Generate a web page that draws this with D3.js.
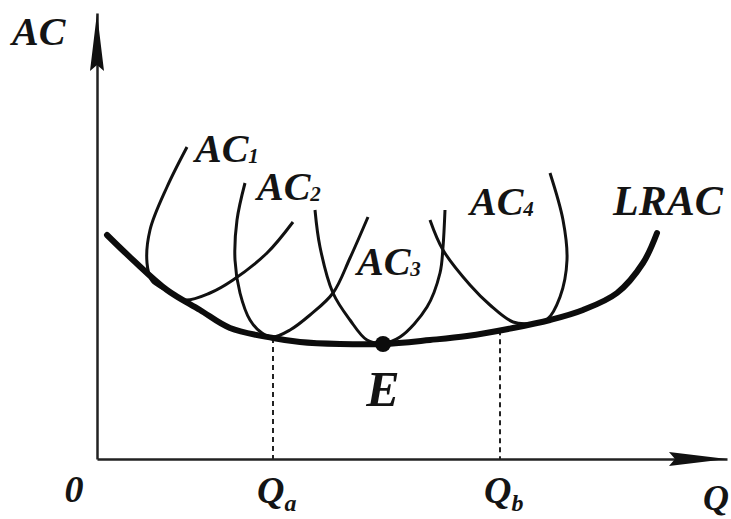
<!DOCTYPE html>
<html>
<head>
<meta charset="utf-8">
<script src="https://cdn.jsdelivr.net/npm/d3@7"></script>
<style>
  body { margin: 0; background: #fff; }
</style>
</head>
<body>
<svg id="chart" width="731" height="519"></svg>
<script>
// curves, [Q, AC]
const lrac = [[2, 44.8], [7.2, 39.8], [14, 33.8], [20.6, 29.8], [26.6, 26.2], [35.2, 24.2], [40.6, 23.4],
  [48.6, 23], [57.2, 23], [66.6, 23.8], [74, 24.6], [83.2, 26.2], [90.6, 27.8], [97.2, 29.8], [104, 33.2],
  [109.2, 39.2], [112, 45.2]];
const ac1 = [[18, 62.4], [14, 54.4], [10.6, 45.8], [10, 39.2], [11, 35.6], [13.5, 33.9], [17.5, 31.8],
  [22.6, 33.2], [27.2, 35.8], [34, 41.2], [39.2, 47.4]];
const ac2 = [[29.6, 55.2], [28, 47.8], [27.6, 39.8], [28.6, 33.2], [30.6, 27.8], [33, 25.2], [35.2, 24.4],
  [38.6, 25.8], [42.6, 28.8], [47.2, 33.2], [50.6, 40.2], [54.2, 48.4]];
const ac3 = [[43.6, 49.8], [44.6, 42.4], [47.2, 33.2], [50.6, 27.8], [54, 23.8], [57.2, 23.2], [60.6, 24.4],
  [66, 30.4], [68.6, 37.2], [69.2, 42.4], [69.6, 49.8]];
const ac4 = [[66.6, 47.8], [69.2, 41.8], [74.6, 34.8], [78.6, 30.8], [83.2, 27.4], [86.6, 27.1], [90, 27.9],
  [92.6, 32.4], [94, 39.8], [93.2, 47.8], [90.6, 57.2]];
const shortRun = [ac1, ac2, ac3, ac4];
const curveNames = ["1", "2", "3", "4"];
const pointE = [57.2, 23];
const qMarks = [{ q: 35.2, sub: "a" }, { q: 80.6, sub: "b" }];

const svg = d3.select("#chart");
const x = d3.scaleLinear().domain([0, 126]).range([97, 727]);
const y = d3.scaleLinear().domain([0, 89.2]).range([459, 13]);

const line = d3.line()
  .x(d => x(d[0]))
  .y(d => y(d[1]))
  .curve(d3.curveCatmullRom.alpha(0.5));

// axes, no ticks
svg.append("g").attr("transform", "translate(0," + y(0) + ")")
  .call(d3.axisBottom(x).tickValues([]).tickSizeOuter(0));
svg.append("g").attr("transform", "translate(" + x(0) + ",0)")
  .call(d3.axisLeft(y).tickValues([]).tickSizeOuter(0));
svg.selectAll(".domain").attr("stroke", "#222").attr("stroke-width", 2.5);

// arrow heads
let xe = x.range()[1], ye = y.range()[1];
svg.append("path")
  .attr("d", `M${xe},${y(0)} L${xe - 58},${y(0) - 7} L${xe - 52},${y(0)} L${xe - 58},${y(0) + 7} Z`)
  .attr("fill", "#111");
svg.append("path")
  .attr("d", `M${x(0)},${ye} L${x(0) - 7},${ye + 58} L${x(0)},${ye + 52} L${x(0) + 7},${ye + 58} Z`)
  .attr("fill", "#111");

// dashed guides at Qa, Qb
const lracAt = d3.scaleLinear().domain(lrac.map(d => d[0])).range(lrac.map(d => d[1]));
svg.selectAll(".guide").data(qMarks).join("line")
  .attr("class", "guide")
  .attr("x1", d => x(d.q)).attr("x2", d => x(d.q))
  .attr("y1", d => y(lracAt(d.q))).attr("y2", y(0))
  .attr("stroke", "#222").attr("stroke-width", 2).attr("stroke-dasharray", "5,4");

// short run curves
svg.selectAll(".sr").data(shortRun).join("path")
  .attr("class", "sr")
  .attr("d", line)
  .attr("fill", "none").attr("stroke", "#111").attr("stroke-width", 3);

// long run curve
svg.append("path").datum(lrac)
  .attr("d", line)
  .attr("fill", "none").attr("stroke", "#0c0c0c").attr("stroke-width", 6).attr("stroke-linecap", "round");

svg.append("circle")
  .attr("cx", x(pointE[0])).attr("cy", y(pointE[1])).attr("r", 8).attr("fill", "#0c0c0c");

// labels
function label(px, py, size) {
  return svg.append("text")
    .attr("x", px).attr("y", py)
    .style("font-family", "'Liberation Serif', 'DejaVu Serif', serif")
    .style("font-style", "italic")
    .style("font-weight", "bold")
    .style("font-size", size + "px")
    .style("fill", "#141414");
}
const labelAt = [[19.6, 59.4], [32, 51.8], [52, 36.8], [74.6, 48.8]];
curveNames.forEach((n, i) => {
  let t = label(x(labelAt[i][0]), y(labelAt[i][1]), 40);
  t.append("tspan").text("AC");
  t.append("tspan").text(n).style("font-size", "21px").attr("dy", 1);
});
label(x(103.2), y(48.8), 42).text("LRAC");
label(12, 45, 40).text("AC");
label(x(pointE[0]), y(pointE[1]) + 62, 50).attr("text-anchor", "middle").text("E");

label(x(-4.6), 502, 38).attr("text-anchor", "middle").text("0");
qMarks.forEach(d => {
  let t = label(x(d.q) - 16, 503, 38);
  t.append("tspan").text("Q");
  t.append("tspan").text(d.sub).style("font-size", "24px").attr("dy", 8);
});
label(703, 510, 36).text("Q");
</script>
</body>
</html>
